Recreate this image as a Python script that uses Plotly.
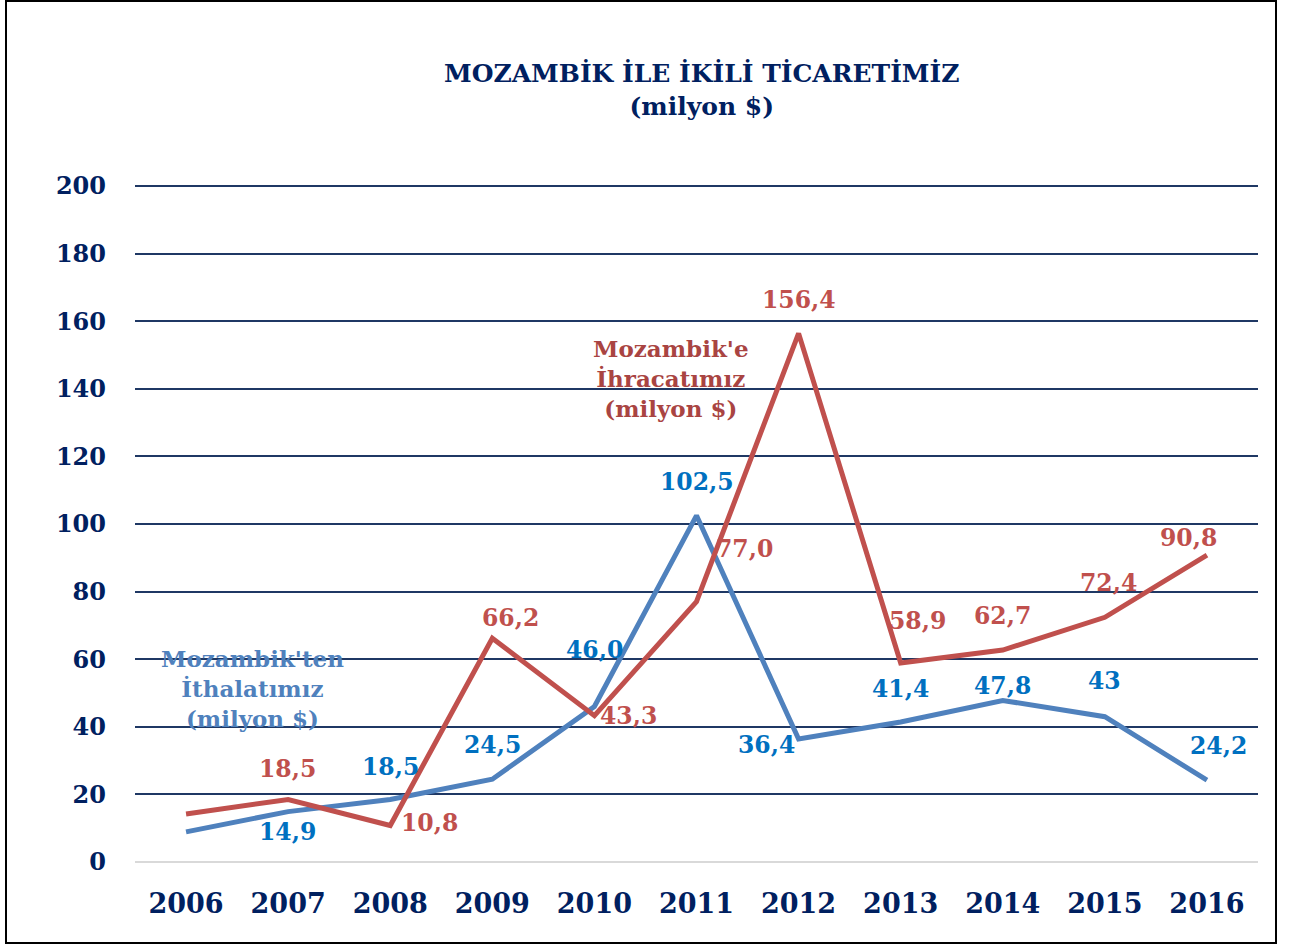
import plotly.graph_objects as go

years = ["2006", "2007", "2008", "2009", "2010", "2011", "2012", "2013", "2014", "2015", "2016"]
exports = [14.2, 18.5, 10.8, 66.2, 43.3, 77.0, 156.4, 58.9, 62.7, 72.4, 90.8]
imports = [8.9, 14.9, 18.5, 24.5, 46.0, 102.5, 36.4, 41.4, 47.8, 43.0, 24.2]
export_labels = [None, "18,5", "10,8", "66,2", "43,3", "77,0", "156,4", "58,9", "62,7", "72,4", "90,8"]
import_labels = [None, "14,9", "18,5", "24,5", "46,0", "102,5", "36,4", "41,4", "47,8", "43", "24,2"]
y_ticks = [0, 20, 40, 60, 80, 100, 120, 140, 160, 180, 200]

# label offsets in pixels (dx, dy)
exp_off = [(0, 0), (-1, 30), (39, 3), (18, 20), (34, 0), (48, 53), (0, 33), (17, 42), (0, 34), (4, 34), (-18, 17)]
imp_off = [(0, 0), (-1, -20), (0, 32), (0, 34), (0, 57), (0, 34), (-32, -6), (0, 33), (0, 14), (0, 36), (12, 34)]

FONT = "DejaVu Serif"
NAVY = "#002060"
RED = "#C0504D"
BLUE = "#4F81BD"
RED_LBL = "#C0504D"
BLUE_LBL = "#0070C0"

fig = go.Figure()
fig.add_trace(go.Scatter(x=years, y=imports, mode="lines", line=dict(color=BLUE, width=5),
                         name="Mozambik'ten İthalatımız", showlegend=False, hoverinfo="x+y"))
fig.add_trace(go.Scatter(x=years, y=exports, mode="lines", line=dict(color=RED, width=5),
                         name="Mozambik'e İhracatımız", showlegend=False, hoverinfo="x+y"))

annotations = []
for i, (y, t, (dx, dy)) in enumerate(zip(exports, export_labels, exp_off)):
    if t:
        annotations.append(dict(x=i, y=y, text=t, showarrow=False, xshift=dx, yshift=dy,
                                xanchor="center", yanchor="middle",
                                font=dict(family=FONT, size=23.5, color=RED_LBL, weight="bold")))
for i, (y, t, (dx, dy)) in enumerate(zip(imports, import_labels, imp_off)):
    if t:
        annotations.append(dict(x=i, y=y, text=t, showarrow=False, xshift=dx, yshift=dy,
                                xanchor="center", yanchor="middle",
                                font=dict(family=FONT, size=23.5, color=BLUE_LBL, weight="bold")))

W, H = 1290, 947
L, R, T, B = 135, 32, 185, 85
pw, ph = W - L - R, H - T - B

def px(xp):
    return (xp - L) / pw

def py(yp):
    return (H - B - yp) / ph

annotations.append(dict(xref="paper", yref="paper", x=px(671), y=py(378), xanchor="center", yanchor="middle",
                        text="Mozambik'e<br>İhracatımız<br>(milyon $)", showarrow=False,
                        font=dict(family=FONT, size=23, color="#A94442", weight="bold"), align="center"))
annotations.append(dict(xref="paper", yref="paper", x=px(252), y=py(688), xanchor="center", yanchor="middle",
                        text="Mozambik'ten<br>İthalatımız<br>(milyon $)", showarrow=False,
                        font=dict(family=FONT, size=23, color=BLUE, weight="bold"), align="center"))
annotations.append(dict(xref="paper", yref="paper", x=px(702), y=py(90), xanchor="center", yanchor="middle",
                        text="MOZAMBİK İLE İKİLİ TİCARETİMİZ<br>(milyon $)", showarrow=False,
                        font=dict(family=FONT, size=25, color=NAVY, weight="bold"), align="center"))

fig.update_layout(
    width=W, height=H,
    margin=dict(l=L, r=R, t=T, b=B),
    paper_bgcolor="white", plot_bgcolor="white",
    annotations=annotations,
    shapes=[dict(type="rect", xref="paper", yref="paper", x0=px(6), x1=px(1276), y0=py(943), y1=py(1),
                 line=dict(color="black", width=2), layer="below")],
    xaxis=dict(type="category", range=[-0.5, 10.5], showgrid=False, showline=False, zeroline=False,
               ticks="", tickfont=dict(family=FONT, size=27, color=NAVY, weight="bold"), ticklabelstandoff=23),
    yaxis=dict(range=[0, 200.3], tickvals=y_ticks, showgrid=True, gridcolor="#1F3864", gridwidth=1.5,
               zeroline=True, zerolinecolor="#D9D9D9", zerolinewidth=2, showline=False, ticks="",
               tickfont=dict(family=FONT, size=24, color=NAVY, weight="bold"), ticklabelstandoff=28),
)

fig.write_html("out.html")
